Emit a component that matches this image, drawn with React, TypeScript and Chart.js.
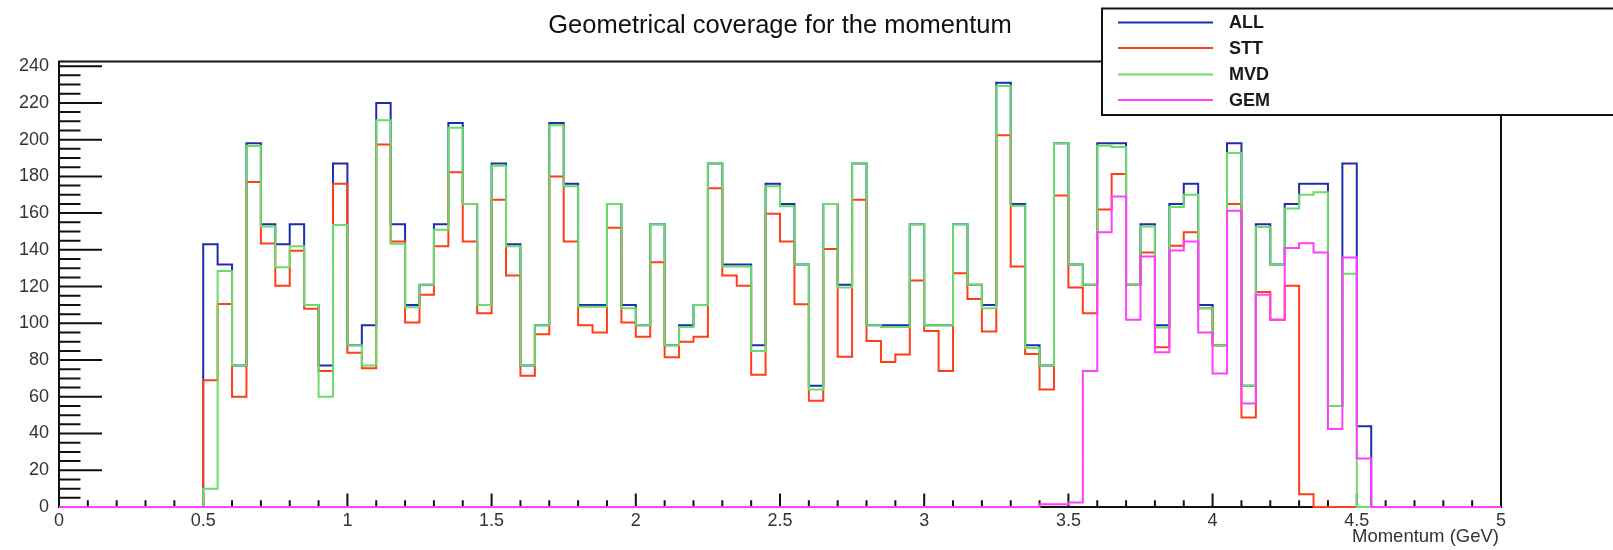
import React, { useEffect, useRef } from "react";
import { Chart, registerables } from "chart.js";

Chart.register(...registerables);

const TITLE = "Geometrical coverage for the momentum";
const X_TITLE = "Momentum (GeV)";
const BIN_WIDTH = 0.05;
const X_MIN = 0;
const X_MAX = 5;
const Y_MIN = 0;
const Y_MAX = 242.55;
const X_TICKS = [0, 0.5, 1, 1.5, 2, 2.5, 3, 3.5, 4, 4.5, 5];
const Y_TICKS = [0, 20, 40, 60, 80, 100, 120, 140, 160, 180, 200, 220, 240];
const SERIES_LABELS = ["ALL", "STT", "MVD", "GEM"];
const SERIES_COLORS = ["#1c2db0", "#ff3d17", "#69dc69", "#ff3fff"];

// 100 bins of 0.05 GeV, from 0 to 5
const ALL = [
  0, 0, 0, 0, 0, 0, 0, 0, 0, 0,
  143, 132, 77, 198, 154, 143, 154, 110, 77, 187,
  88, 99, 220, 154, 110, 121, 154, 209, 165, 110,
  187, 143, 77, 99, 209, 176, 110, 110, 165, 110,
  99, 154, 88, 99, 110, 187, 132, 132, 88, 176,
  165, 132, 66, 165, 121, 187, 99, 99, 99, 154,
  99, 99, 154, 121, 110, 231, 165, 88, 77, 198,
  132, 121, 198, 198, 121, 154, 99, 165, 176, 110,
  88, 198, 66, 154, 132, 165, 176, 176, 55, 187,
  44, 0, 0, 0, 0, 0, 0, 0, 0, 0,
];

const STT = [
  0, 0, 0, 0, 0, 0, 0, 0, 0, 0,
  69, 110.5, 60, 177, 143.5, 120.5, 139.5, 108, 74, 176,
  84, 75.5, 197.3, 144.5, 100.5, 115.5, 142, 182.3, 144.5, 105.5,
  167.3, 126, 71.5, 94, 180, 144.5, 99, 95, 152, 100.5,
  92.7, 133.3, 81.5, 90, 92.7, 173.6, 126, 120.5, 72, 159.6,
  144.5, 110.4, 57.8, 140.5, 81.8, 167.3, 90.4, 79, 83, 123.3,
  95.8, 74, 127.3, 113.3, 95.5, 202.4, 131, 83.3, 64, 169.6,
  119.5, 105.5, 162, 181.3, 121, 138.5, 87, 142.2, 149.6, 108.2,
  88, 165, 48.7, 117, 102, 120.4, 7, 0, 0, 0,
  0, 0, 0, 0, 0, 0, 0, 0, 0, 0,
];

const MVD = [
  0, 0, 0, 0, 0, 0, 0, 0, 0, 0,
  10, 128.5, 77, 196.5, 152.7, 130.5, 142, 110, 60, 153.5,
  88, 77, 210.5, 143.3, 108.8, 121, 151, 206.5, 165, 110,
  185.8, 142, 77, 99, 207.8, 174.6, 109, 109, 165, 108.2,
  99, 154, 88, 98, 110, 187, 131, 131, 85, 174.6,
  163.7, 132, 64, 165, 119.5, 187, 99, 98, 98, 154,
  99, 99, 154, 121, 108.2, 229.2, 164, 86.5, 77, 198,
  132, 121, 196.7, 196, 121, 152.7, 97.7, 163.3, 170, 108.2,
  88, 192.7, 66, 152.4, 132, 162.5, 170, 171.3, 55, 127,
  0, 0, 0, 0, 0, 0, 0, 0, 0, 0,
];

const GEM = [
  0, 0, 0, 0, 0, 0, 0, 0, 0, 0,
  0, 0, 0, 0, 0, 0, 0, 0, 0, 0,
  0, 0, 0, 0, 0, 0, 0, 0, 0, 0,
  0, 0, 0, 0, 0, 0, 0, 0, 0, 0,
  0, 0, 0, 0, 0, 0, 0, 0, 0, 0,
  0, 0, 0, 0, 0, 0, 0, 0, 0, 0,
  0, 0, 0, 0, 0, 0, 0, 0, 1.5, 1.5,
  2.5, 74, 149.6, 169, 102, 136.4, 84.2, 139.6, 144.5, 95,
  72.7, 161.3, 56.4, 115.5, 102, 141, 143.6, 138.5, 42.4, 135.8,
  26.4, 0, 0, 0, 0, 0, 0, 0, 0, 0,
];

const SERIES = [ALL, STT, MVD, GEM];

function toSteps(values: number[]) {
  const pts = values.map((v, i) => ({ x: X_MIN + i * BIN_WIDTH, y: v }));
  pts.push({ x: X_MIN + values.length * BIN_WIDTH, y: 0 });
  return pts;
}

const FONT = "'Liberation Sans', Arial, Helvetica, sans-serif";

const rootPlugin = {
  id: "rootFrame",
  beforeDatasetsDraw(chart: any) {
    const { ctx, chartArea: a } = chart;
    const xs = chart.scales.x;
    const ys = chart.scales.y;
    ctx.save();
    ctx.strokeStyle = "#111";
    ctx.lineWidth = 2;
    ctx.lineCap = "butt";
    ctx.beginPath();
    ctx.moveTo(a.left, a.top);
    ctx.lineTo(a.right, a.top);
    ctx.lineTo(a.right, a.bottom);
    ctx.lineTo(a.left, a.bottom);
    ctx.closePath();
    ctx.stroke();
    // y ticks (major every 20, minor every 5), drawn inward
    ctx.beginPath();
    for (let k = 0; k <= 48; k++) {
      const v = k * 5;
      const py = ys.getPixelForValue(v);
      const len = k % 4 === 0 ? 43 : 21.5;
      ctx.moveTo(a.left, py);
      ctx.lineTo(a.left + len, py);
    }
    // x ticks (major every 0.5, minor every 0.1), drawn upward
    for (let k = 0; k <= 50; k++) {
      const v = k * 0.1;
      const px = xs.getPixelForValue(v);
      const len = k % 5 === 0 ? 13.4 : 6.7;
      ctx.moveTo(px, a.bottom);
      ctx.lineTo(px, a.bottom - len);
    }
    ctx.stroke();
    ctx.restore();
  },
  afterDraw(chart: any) {
    const { ctx, chartArea: a } = chart;
    ctx.save();
    // title
    ctx.fillStyle = "#111";
    ctx.font = `25.5px ${FONT}`;
    ctx.textAlign = "center";
    ctx.textBaseline = "alphabetic";
    ctx.fillText(TITLE, (a.left + a.right) / 2, 32.5);
    // x axis title
    ctx.fillStyle = "#333";
    ctx.font = `18.5px ${FONT}`;
    ctx.textAlign = "right";
    ctx.fillText(X_TITLE, a.right - 2, 541.5);
    // legend box
    const bx = 1102;
    const by = 8.5;
    const bh = 106.5;
    ctx.fillStyle = "#ffffff";
    ctx.fillRect(bx, by, 600, bh);
    ctx.strokeStyle = "#111";
    ctx.lineWidth = 2;
    ctx.strokeRect(bx, by, 600, bh);
    const rows = [22.5, 48, 74.5, 100];
    ctx.font = `bold 18px ${FONT}`;
    ctx.textAlign = "left";
    ctx.textBaseline = "middle";
    SERIES_LABELS.forEach((lab, i) => {
      ctx.strokeStyle = SERIES_COLORS[i];
      ctx.lineWidth = 2;
      ctx.beginPath();
      ctx.moveTo(1118, rows[i]);
      ctx.lineTo(1213, rows[i]);
      ctx.stroke();
      ctx.fillStyle = "#1a1a1a";
      ctx.fillText(lab, 1229, rows[i] + 1);
    });
    ctx.restore();
  },
};

export default function App() {
  const canvasRef = useRef<HTMLCanvasElement | null>(null);

  useEffect(() => {
    document.body.style.margin = "0";
    const canvas = canvasRef.current;
    if (!canvas) return;
    const datasets = SERIES.map((vals, i) => ({
      label: SERIES_LABELS[i],
      data: toSteps(vals),
      stepped: "before" as const,
      borderColor: SERIES_COLORS[i],
      backgroundColor: SERIES_COLORS[i],
      borderWidth: 2,
      pointRadius: 0,
      pointHoverRadius: 0,
      fill: false,
      tension: 0,
      clip: false as any,
      borderJoinStyle: "miter" as const,
      order: SERIES.length - i,
    }));
    const chart = new Chart(canvas, {
      type: "line",
      data: { datasets },
      options: {
        animation: false,
        responsive: false,
        devicePixelRatio: 1,
        events: [],
        layout: { padding: { top: 61.5, right: 112, bottom: 0, left: 0 } },
        plugins: {
          legend: { display: false },
          title: { display: false },
          tooltip: { enabled: false },
        },
        scales: {
          x: {
            type: "linear",
            min: X_MIN,
            max: X_MAX,
            grid: { display: false, drawTicks: false },
            border: { display: false },
            ticks: {
              autoSkip: false,
              maxRotation: 0,
              padding: 3,
              color: "#333",
              font: { family: FONT, size: 18 },
              callback: (v: any) => String(v),
            },
            afterBuildTicks: (s: any) => {
              s.ticks = X_TICKS.map((v) => ({ value: v }));
            },
            afterFit: (s: any) => {
              s.height = 43;
            },
          },
          y: {
            type: "linear",
            min: Y_MIN,
            max: Y_MAX,
            grid: { display: false, drawTicks: false },
            border: { display: false },
            ticks: {
              autoSkip: false,
              padding: 10,
              color: "#333",
              font: { family: FONT, size: 18 },
              callback: (v: any) => String(v),
            },
            afterBuildTicks: (s: any) => {
              s.ticks = Y_TICKS.map((v) => ({ value: v }));
            },
            afterFit: (s: any) => {
              s.width = 59;
            },
          },
        },
      },
      plugins: [rootPlugin],
    });
    return () => chart.destroy();
  }, []);

  return (
    <div style={{ width: 1613, height: 550, position: "relative", background: "#fff" }}>
      <canvas ref={canvasRef} width={1613} height={550} style={{ width: 1613, height: 550, display: "block" }} />
    </div>
  );
}
